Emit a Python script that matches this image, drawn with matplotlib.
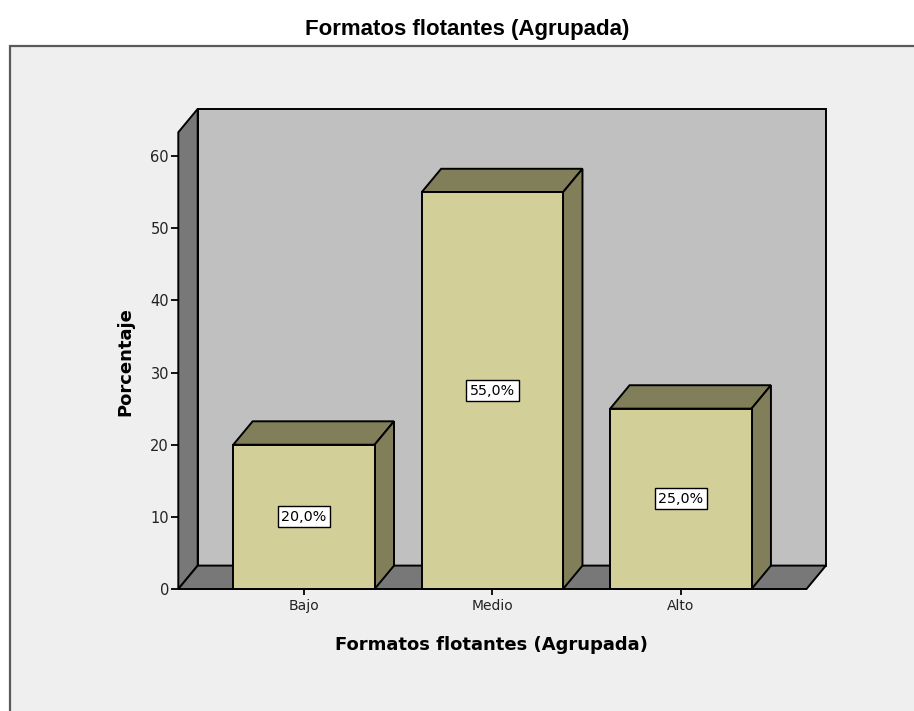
import matplotlib
matplotlib.use("Agg")
import matplotlib.pyplot as plt
from matplotlib.patches import Polygon, Rectangle

categories = ["Bajo", "Medio", "Alto"]
percentages = [20.0, 55.0, 25.0]
yticks = [0, 10, 20, 30, 40, 50, 60]
title = "Formatos flotantes (Agrupada)"
xlabel = "Formatos flotantes (Agrupada)"
ylabel = "Porcentaje"

plt.rcParams['font.family'] = ['DejaVu Sans']

W, H = 914, 711
fig = plt.figure(figsize=(W / 100, H / 100), dpi=100)
fig.patch.set_facecolor("white")

# outer frame
frame = Rectangle((9.5 / W, -0.05), 1.1, (H - 46.5) / H + 0.05,
                  transform=fig.transFigure, facecolor="#efefef",
                  edgecolor="#5a5a5a", linewidth=1.6, zorder=-5)
fig.add_artist(frame)

left_px, right_px, bottom_px, top_px = 178.3, 806.5, 589.0, 132.3
ax = fig.add_axes([left_px / W, (H - bottom_px) / H,
                   (right_px - left_px) / W, (bottom_px - top_px) / H])
ax.set_zorder(2)
ax.set_facecolor("none")
xmin, xmax = -2 / 3, 8 / 3
ymax = 63.3
ax.set_xlim(xmin, xmax)
ax.set_ylim(0, ymax)
for s in ax.spines.values():
    s.set_visible(False)

dx = 19.4 / ((right_px - left_px) / (xmax - xmin))
dy = 23.4 / ((bottom_px - top_px) / ymax)

wall_c = "#c0c0c0"
side_c = "#787878"
front_c = "#d3cf98"
dark_c = "#817f5a"
lw = 1.4

def poly(pts, fc, z):
    p = Polygon(pts, closed=True, facecolor=fc, edgecolor="black",
                linewidth=lw, zorder=z, clip_on=False, joinstyle="miter")
    ax.add_patch(p)

# back wall
poly([(xmin + dx, dy), (xmax + dx, dy), (xmax + dx, ymax + dy), (xmin + dx, ymax + dy)], wall_c, 1)
# left wall
poly([(xmin, 0), (xmin + dx, dy), (xmin + dx, ymax + dy), (xmin, ymax)], side_c, 2)
# floor
poly([(xmin, 0), (xmin + dx, dy), (xmax + dx, dy), (xmax, 0)], side_c, 2)

width = 0.75
xs = list(range(len(categories)))
bars = ax.bar(xs, percentages, width=width, color=front_c, edgecolor="black",
              linewidth=lw, zorder=5, clip_on=False)
for x, v in zip(xs, percentages):
    l, r = x - width / 2, x + width / 2
    poly([(l, v), (l + dx, v + dy), (r + dx, v + dy), (r, v)], dark_c, 4)
    poly([(r, 0), (r + dx, dy), (r + dx, v + dy), (r, v)], dark_c, 4)
    ax.text(x, v / 2, f"{v:.1f}%".replace(".", ","), ha="center", va="center",
            fontsize=10.3, color="black", zorder=7,
            bbox=dict(boxstyle="square,pad=0.25", facecolor="white",
                      edgecolor="black", linewidth=1.0))

ax.set_yticks(yticks)
ax.set_yticklabels([str(t) for t in yticks])
ax.set_xticks(xs)
ax.set_xticklabels(categories)
ax.tick_params(axis="y", length=5.2, width=1.3, pad=1.5, labelsize=10.5,
               colors="black", labelcolor="#222222")
ax.tick_params(axis="x", length=4.0, width=1.3, pad=3.0, labelsize=10,
               colors="black", labelcolor="#222222")

fig.text(467 / W, 1 - 30 / H, title, ha="center", va="center",
         fontsize=16, fontweight="bold", family=["Liberation Sans", "DejaVu Sans"])
fig.text(491 / W, 1 - 645 / H, xlabel, ha="center", va="center",
         fontsize=13, fontweight="bold")
fig.text(125 / W, 1 - 362 / H, ylabel, ha="center", va="center",
         fontsize=13, fontweight="bold", rotation=90)

fig.savefig("out.png", dpi=100)
